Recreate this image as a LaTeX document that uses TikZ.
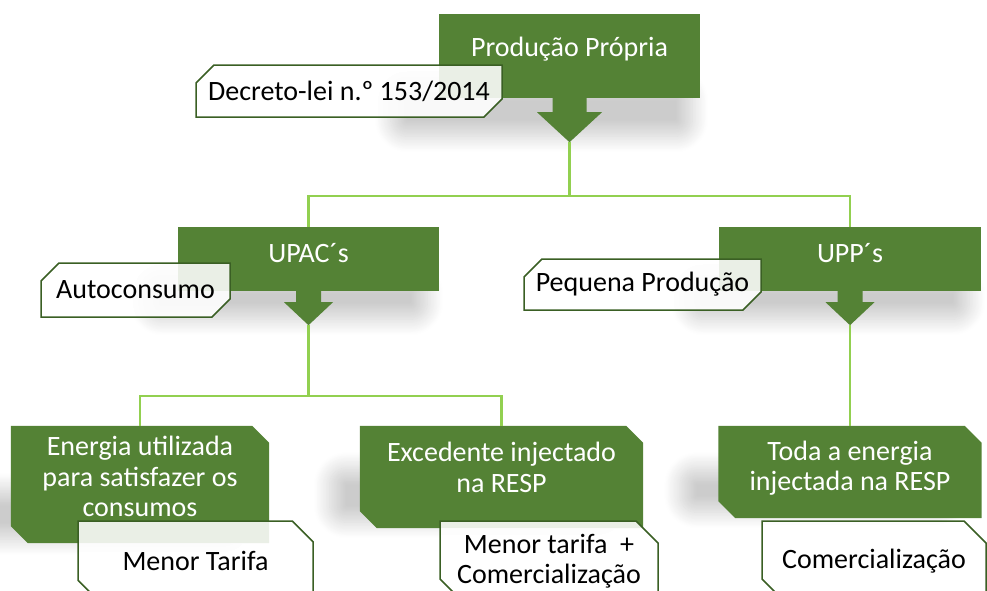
\documentclass[tikz,border=0pt]{standalone}
\usepackage{fontspec}
\setmainfont{Carlito}
\usetikzlibrary{shapes.misc,shadows.blur,backgrounds}
\definecolor{gbox}{HTML}{548235}
\definecolor{gline}{HTML}{92D050}
\definecolor{gdark}{HTML}{3A5F24}
\newcommand{\boxshadow}[5]{%
  \path[shadband] ([xshift=-#2pt,yshift=#4pt]#1.south west) rectangle ([xshift=-#3pt,yshift=-#5pt]#1.south east);}
\newcommand{\chamfill}[2]{%
  \fill[gbox] (#1.north west) -- ([xshift=-#2pt]#1.north east) -- ([yshift=-#2pt]#1.north east)
    -- (#1.south east) -- ([xshift=#2pt]#1.south west) -- ([yshift=#2pt]#1.south west) -- cycle;}
\begin{document}
\begin{tikzpicture}[x=1pt,y=-1pt,
  font=\fontsize{28}{30.5}\selectfont,
  shadband/.style={rounded corners=16pt, blur shadow={shadow xshift=0pt, shadow yshift=0pt, shadow opacity=20, shadow blur radius=16pt, shadow blur steps=20}},
  greenbox/.style={rectangle, fill=gbox, draw=none, inner sep=0pt},
  frame/.style={rectangle, draw=none, fill=none, inner sep=0pt},
  wtext/.style={text=white, align=center, inner sep=0pt},
  tagbox/.style={chamfered rectangle, chamfered rectangle xsep=9pt, chamfered rectangle ysep=9pt, chamfered rectangle corners={north west, south east}, draw=gdark, line width=1.5pt, fill=white, fill opacity=0.88, text opacity=1, inner sep=0pt, align=center},
  notebox/.style={tagbox, chamfered rectangle corners={north east, south west}, chamfered rectangle xsep=11pt, chamfered rectangle ysep=11pt},
  conn/.style={draw=gline, line width=2.2pt},
  arrowfill/.style={fill=gbox}
]
\useasboundingbox (0,0) rectangle (987,590);

% top level
\node[greenbox, minimum width=261pt, minimum height=84pt] (prod) at (569.5,56) {};
\fill[arrowfill] ([xshift=-17pt]prod.south) -- ++(0,14) -- ++(-15.5,0) -- ++(32.5,30) coordinate (ptip) -- ++(32.5,-30) -- ++(-15.5,0) -- ++(0,-14) -- cycle;
\node[wtext] (tprod) at (569.5,49) {Produção Própria};

% second level
\node[greenbox, minimum width=261pt, minimum height=64pt] (upac) at (308.5,259) {};
\fill[arrowfill] ([xshift=-12.5pt]upac.south) -- ++(0,11) -- ++(-12,0) -- ++(24.5,23) coordinate (atip) -- ++(24.5,-23) -- ++(-12,0) -- ++(0,-11) -- cycle;
\node[wtext] (tupac) at (308.5,253) {UPAC´s};

\node[greenbox, minimum width=262pt, minimum height=64pt] (upp) at (850,259) {};
\fill[arrowfill] ([xshift=-12.5pt]upp.south) -- ++(0,11) -- ++(-12,0) -- ++(24.5,23) coordinate (utip) -- ++(24.5,-23) -- ++(-12,0) -- ++(0,-11) -- cycle;
\node[wtext] (tupp) at (850,253) {UPP´s};

% third level
\node[frame, minimum width=258pt, minimum height=117pt] (ener) at (140,484.5) {};
\chamfill{ener}{17}
\node[wtext] (tener) at (140,476.5) {Energia utilizada\\para satisfazer os\\consumos};

\node[frame, minimum width=283pt, minimum height=102pt] (exc) at (501.5,477) {};
\chamfill{exc}{17}
\node[wtext] (texc) at (501.5,467.5) {Excedente injectado\\na RESP};

\node[frame, minimum width=263pt, minimum height=92pt] (toda) at (850,472) {};
\chamfill{toda}{17}
\node[wtext] (ttoda) at (850,468) {Toda a energia\\injectada na RESP};

% soft shadows behind the green boxes
\begin{pgfonlayer}{background}
\boxshadow{prod}{48}{8}{14}{38}
\boxshadow{upac}{32}{12}{14}{28}
\boxshadow{upp}{32}{12}{14}{28}
\boxshadow{ener}{28}{30}{54}{-4}
\boxshadow{exc}{30}{30}{60}{-6}
\boxshadow{toda}{38}{30}{50}{-6}
\end{pgfonlayer}

% connectors
\draw[conn] (ptip) -- ++(0,54) coordinate (pj);
\draw[conn] (upac.north) |- (pj) -| (upp.north);
\draw[conn] (atip) -- ++(0,71) coordinate (aj);
\draw[conn] (ener.north) |- (aj) -| (exc.north);
\draw[conn] (utip) -- (toda.north);

% tag boxes
\node[tagbox, minimum width=306pt, minimum height=52pt] (dec) at (349,91) {Decreto-lei n.º 153/2014};
\node[tagbox, minimum width=189pt, minimum height=54pt] (auto) at (135.5,290) {Autoconsumo};
\node[tagbox, minimum width=237pt, minimum height=51pt] (peq) at (642.5,284.5) {Pequena Produção};

% note boxes
\node[notebox, minimum width=235pt, minimum height=80pt] (men) at (195.5,561) {Menor Tarifa};
\node[notebox, minimum width=218pt, minimum height=80pt] (menc) at (549,561) {Menor tarifa~~+\\Comercialização};
\node[notebox, minimum width=224pt, minimum height=80pt] (com) at (874,561) {Comercialização};
\end{tikzpicture}
\end{document}
